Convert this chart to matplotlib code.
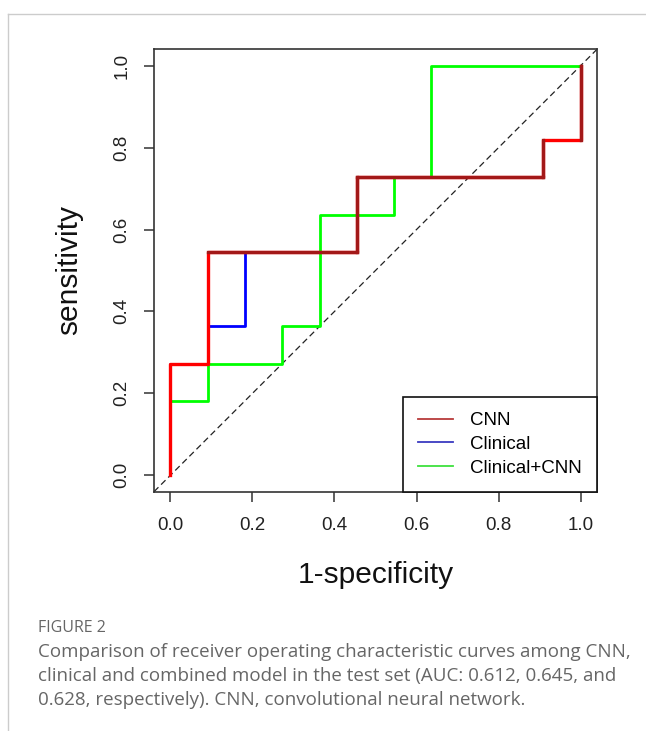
#!/usr/bin/env python3
import matplotlib
matplotlib.use("Agg")
import matplotlib.pyplot as plt
from matplotlib.lines import Line2D

# Courbes ROC (ensemble de test, 11 cas par classe)
cnn_fpr = [0, 0, 1/11, 1/11, 5/11, 5/11, 10/11, 10/11, 1, 1]
cnn_tpr = [0, 3/11, 3/11, 6/11, 6/11, 8/11, 8/11, 9/11, 9/11, 1]

clin_fpr = [0, 0, 1/11, 1/11, 2/11, 2/11, 5/11, 5/11, 10/11, 10/11, 1, 1]
clin_tpr = [0, 3/11, 3/11, 4/11, 4/11, 6/11, 6/11, 8/11, 8/11, 9/11, 9/11, 1]

comb_fpr = [0, 0, 1/11, 1/11, 3/11, 3/11, 4/11, 4/11, 6/11, 6/11, 7/11, 7/11, 1]
comb_tpr = [0, 2/11, 2/11, 3/11, 3/11, 4/11, 4/11, 7/11, 7/11, 8/11, 8/11, 1, 1]

labels = ["CNN", "Clinical", "Clinical+CNN"]
ticks = [0.0, 0.2, 0.4, 0.6, 0.8, 1.0]

caption_title = "FIGURE 2"
caption_lines = [
    "Comparison of receiver operating characteristic curves among CNN,",
    "clinical and combined model in the test set (AUC: 0.612, 0.645, and",
    "0.628, respectively). CNN, convolutional neural network.",
]

# Couleurs
colors = ["#ff0000", "#0000ff", "#00ff00"]
legend_colors = ["#b83a3a", "#3a3ac0", "#3ee03e"]
dark_red = "#a31818"
# segments de la courbe CNN qui paraissent plus sombres (superposition)
cnn_dark_segments = [3, 4, 5, 6, 8]


def main():
    plt.rcParams['font.family'] = ['Liberation Sans', 'DejaVu Sans']
    fig = plt.figure(figsize=(6.46, 7.31), dpi=100)
    ax = fig.add_axes([0.2384, 0.3274, 0.6858, 0.6052])

    lw = 2.0
    ax.axline((0, 0), (1, 1), color='#222222', lw=0.9, ls=(0, (5, 3)), zorder=1)
    ax.plot(clin_fpr, clin_tpr, color=colors[1], lw=lw, zorder=2)
    ax.plot(comb_fpr, comb_tpr, color=colors[2], lw=lw, zorder=3)
    ax.plot(cnn_fpr, cnn_tpr, color=colors[0], lw=lw + 0.4, zorder=4)
    for i in cnn_dark_segments:
        ax.plot(cnn_fpr[i:i + 2], cnn_tpr[i:i + 2], color=dark_red, lw=lw + 0.4,
                zorder=5, solid_capstyle='projecting')

    ax.set_xlim(-0.04, 1.04)
    ax.set_ylim(-0.04, 1.04)
    ax.set_xticks(ticks)
    ax.set_yticks(ticks)
    ax.set_xticklabels([f"{t:.1f}" for t in ticks])
    ax.set_yticklabels([f"{t:.1f}" for t in ticks], rotation=90, va='center')
    ax.tick_params(direction='out', length=7, width=1.1, color='#333333',
                   labelsize=13.5, labelcolor='#222222')
    ax.tick_params(axis='x', pad=11)
    ax.tick_params(axis='y', pad=10)
    for s in ax.spines.values():
        s.set_linewidth(1.2)
        s.set_color('#333333')
    ax.set_xlabel("1-specificity", fontsize=21.5, labelpad=20, color='#111111')
    ax.set_ylabel("sensitivity", fontsize=21.5, labelpad=22, color='#111111')

    handles = [Line2D([], [], color=c, lw=1.3) for c in legend_colors]
    leg = ax.legend(handles, labels, loc='lower right', borderaxespad=0,
                    fontsize=13.5, fancybox=False, framealpha=1,
                    edgecolor='#111111', handlelength=1.9, handletextpad=0.9,
                    borderpad=0.8, labelspacing=0.35)
    leg.get_frame().set_linewidth(1.2)
    leg.set_zorder(6)

    # cadre de la page et légende de la figure
    fig.add_artist(Line2D([8 / 646, 1], [1 - 14 / 731] * 2, color='#cccccc', lw=1))
    fig.add_artist(Line2D([8 / 646] * 2, [0, 1 - 14 / 731], color='#cccccc', lw=1))
    fig.text(38 / 646, 1 - 628 / 731, caption_title, fontsize=11.5, color='#666666',
             family=['Open Sans', 'DejaVu Sans'], va='center')
    for i, line in enumerate(caption_lines):
        fig.text(38 / 646, 1 - (652 + 24 * i) / 731, line, fontsize=13.5,
                 color='#666666', family=['Open Sans', 'DejaVu Sans'], va='center')

    fig.savefig("out.png", dpi=100)


if __name__ == "__main__":
    main()
